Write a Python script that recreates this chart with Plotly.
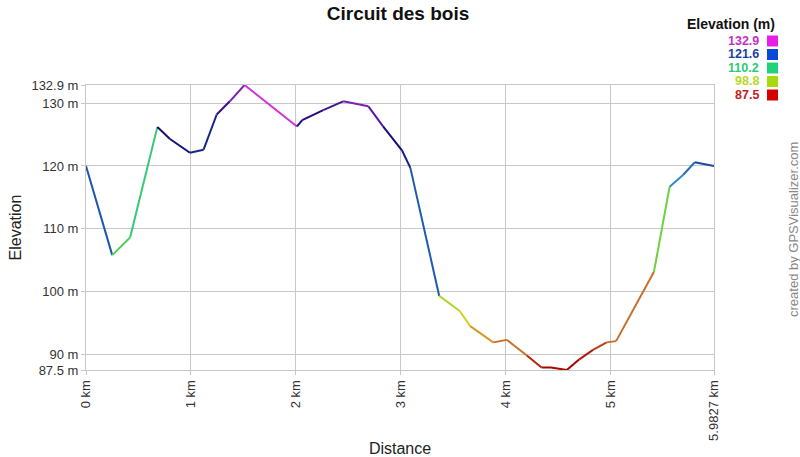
import plotly.graph_objects as go

# Data (distance in km, elevation in m)
dist_km = [0.00, 0.25, 0.42, 0.68, 0.80, 0.99, 1.12, 1.245, 1.37, 1.51,
           2.01, 2.06, 2.26, 2.45, 2.69, 2.83, 3.01, 3.09, 3.365, 3.56,
           3.66, 3.88, 4.01, 4.20, 4.34, 4.43, 4.58, 4.70, 4.83, 4.96,
           5.05, 5.41, 5.56, 5.69, 5.80, 5.9827]
elev_m = [120.0, 105.8, 108.6, 126.2, 124.3, 122.1, 122.6, 128.2, 130.3, 132.9,
          126.3, 127.3, 128.9, 130.3, 129.5, 126.3, 122.5, 119.7, 99.3, 96.9,
          94.5, 91.9, 92.3, 89.8, 87.9, 87.9, 87.5, 89.2, 90.7, 91.9,
          92.1, 103.1, 116.7, 118.6, 120.6, 120.0]

y_tick_vals = [87.5, 90, 100, 110, 120, 130, 132.9]
y_tick_text = ["87.5 m", "90 m", "100 m", "110 m", "120 m", "130 m", "132.9 m"]
x_tick_vals = [0, 1, 2, 3, 4, 5, 5.9827]
x_tick_text = ["0 km", "1 km", "2 km", "3 km", "4 km", "5 km", "5.9827 km"]

legend_vals = ["132.9", "121.6", "110.2", "98.8", "87.5"]
legend_text_colors = ["#c030c8", "#1a3ea0", "#2acb7a", "#b6d82a", "#c02020"]
legend_box_colors = ["#e81ee8", "#0a48d8", "#22d27a", "#a8d810", "#d40000"]

# colour scale for elevation
stops = [(87.5, (170, 0, 0)), (90.0, (176, 40, 20)), (92.0, (200, 110, 40)),
         (95.0, (210, 165, 35)), (97.0, (215, 210, 30)), (99.0, (180, 215, 40)),
         (103.0, (110, 210, 60)), (108.0, (55, 205, 110)), (111.0, (50, 190, 130)),
         (117.0, (40, 140, 195)), (120.0, (30, 85, 170)), (122.0, (20, 40, 140)),
         (124.5, (16, 16, 120)), (127.0, (30, 10, 120)), (129.0, (70, 20, 150)),
         (131.0, (150, 40, 190)), (132.9, (210, 50, 215))]


def elev_color(v):
    if v <= stops[0][0]:
        c = stops[0][1]
    elif v >= stops[-1][0]:
        c = stops[-1][1]
    else:
        for (a, ca), (b, cb) in zip(stops[:-1], stops[1:]):
            if a <= v <= b:
                t = (v - a) / (b - a)
                c = tuple(int(round(ca[k] + t * (cb[k] - ca[k]))) for k in range(3))
                break
    return "rgb(%d,%d,%d)" % c


fig = go.Figure()
for i in range(len(dist_km) - 1):
    fig.add_trace(go.Scatter(
        x=dist_km[i:i + 2], y=elev_m[i:i + 2], mode="lines",
        line=dict(color=elev_color(elev_m[i]), width=2),
        showlegend=False, hoverinfo="skip"))

font_family = "Liberation Sans, Arial, sans-serif"
L, R, T, B = 86, 86, 85, 87
PW, PH = 800 - L - R, 457 - T - B


def px(x):
    return (x - L) / PW


def py(y):
    return (457 - B - y) / PH


fig.update_layout(
    width=800, height=457,
    margin=dict(l=L, r=R, t=T, b=B, autoexpand=False),
    paper_bgcolor="white", plot_bgcolor="white",
    font=dict(family=font_family, size=13, color="#333333"),
    title=dict(text="<b>Circuit des bois</b>", x=0.4975, xanchor="center",
               y=1 - 13 / 457, yanchor="middle", font=dict(size=19, color="#111111")),
    xaxis=dict(range=[0, 5.9827], tickvals=x_tick_vals, ticktext=x_tick_text,
               tickangle=-90, showgrid=True, gridcolor="#c8c8c8", gridwidth=1,
               showline=True, linecolor="#c8c8c8", mirror=True, zeroline=False,
               ticks="outside", ticklen=4, tickcolor="#c8c8c8", automargin=False,
               tickfont=dict(size=13, color="#333333"),
               title=dict(text="Distance", font=dict(size=16, color="#222222"), standoff=18)),
    yaxis=dict(range=[87.5, 132.9], tickvals=y_tick_vals, ticktext=y_tick_text,
               showgrid=True, gridcolor="#c8c8c8", gridwidth=1,
               showline=True, linecolor="#c8c8c8", mirror=True, zeroline=False,
               ticks="outside", ticklen=4, tickcolor="#c8c8c8", automargin=False,
               tickfont=dict(size=13, color="#333333"),
               title=dict(text="Elevation", font=dict(size=16, color="#222222"), standoff=5)),
)

annotations = [dict(text="<b>Elevation (m)</b>", xref="paper", yref="paper",
                    x=px(777), y=py(24), xanchor="right",
                    yanchor="middle", showarrow=False,
                    font=dict(size=14, color="#111111", family=font_family)),
               dict(text="created by GPSVisualizer.com", xref="paper", yref="paper",
                    x=px(793), y=py(230), textangle=-90,
                    xanchor="center", yanchor="middle", showarrow=False,
                    font=dict(size=13, color="#888888", family=font_family))]
shapes = []
for k, (v, tc, bc) in enumerate(zip(legend_vals, legend_text_colors, legend_box_colors)):
    ypix = 41 + k * 13.5
    annotations.append(dict(text="<b>%s</b>" % v, xref="paper", yref="paper",
                            x=px(761), y=py(ypix), xanchor="right", yanchor="middle",
                            showarrow=False, font=dict(size=12.5, color=tc, family=font_family)))
    shapes.append(dict(type="rect", xref="paper", yref="paper",
                       x0=px(767), x1=px(778),
                       y0=py(ypix + 5.5), y1=py(ypix - 5.5),
                       fillcolor=bc, line=dict(width=0)))
fig.update_layout(annotations=annotations, shapes=shapes)

fig.write_html("out.html", config={"displayModeBar": False},
               post_script="document.body.style.margin='0';document.body.style.overflow='hidden';")
